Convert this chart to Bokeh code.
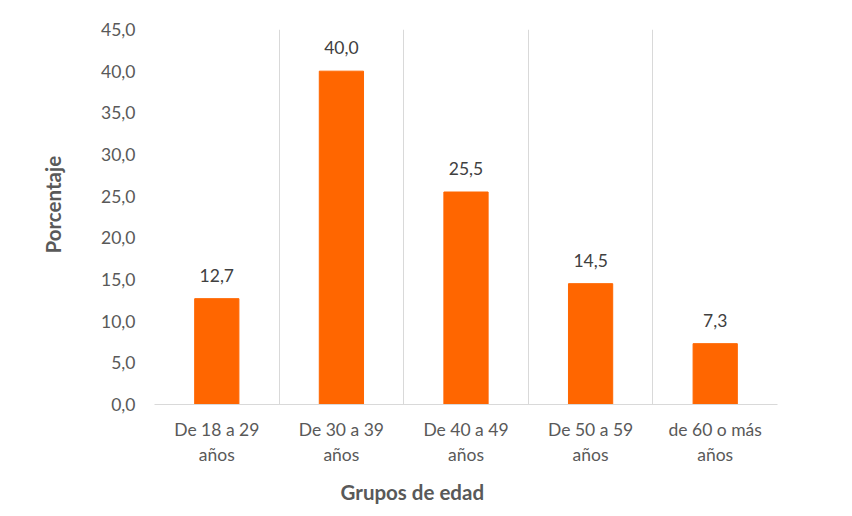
from bokeh.plotting import figure
from bokeh.models import FixedTicker, CustomJSTickFormatter, Title, ColumnDataSource, Range1d
from bokeh.core.properties import value
from bokeh.embed import file_html
from bokeh.resources import INLINE

categories = ["De 18 a 29\naños", "De 30 a 39\naños", "De 40 a 49\naños", "De 50 a 59\naños", "de 60 o más\naños"]
values = [12.7, 40.0, 25.5, 14.5, 7.3]
y_ticks = [0, 5, 10, 15, 20, 25, 30, 35, 40, 45]

FONT = "Lato"
GRAY = "#595959"

xs = [i + 0.5 for i in range(len(categories))]
labels = [f"{v:.1f}".replace(".", ",") for v in values]
src = ColumnDataSource(dict(x=xs, top=values, lab=labels))

p = figure(width=852, height=516, output_backend="svg", toolbar_location=None,
           x_range=Range1d(0, len(categories)), y_range=Range1d(0, 45),
           min_border_left=154, min_border_right=75, min_border_top=29, min_border_bottom=112)
p.outline_line_color = None
p.background_fill_color = "white"
p.border_fill_color = "white"

p.vbar(x="x", top="top", width=0.355, source=src, color="#FF6600")
p.text(x="x", y="top", text="lab", source=src, text_align="center", text_baseline="bottom",
       y_offset=-17, text_font_size="17.5px", text_color="#404040", text_font=value(FONT))

# axes
p.xaxis.ticker = FixedTicker(ticks=xs)
p.xaxis.major_label_overrides = {x: c for x, c in zip(xs, categories)}
p.xaxis.major_tick_line_color = None
p.xaxis.minor_tick_line_color = None
p.xaxis.axis_line_color = "#d9d9d9"
p.xaxis.major_label_text_font = FONT
p.xaxis.major_label_text_font_size = "17.5px"
p.xaxis.major_label_text_color = GRAY
p.xaxis.major_label_standoff = 8

p.yaxis.ticker = FixedTicker(ticks=y_ticks)
p.yaxis.formatter = CustomJSTickFormatter(code="return tick.toFixed(1).replace('.', ',');")
p.yaxis.major_tick_line_color = None
p.yaxis.minor_tick_line_color = None
p.yaxis.axis_line_color = None
p.yaxis.major_label_text_font = FONT
p.yaxis.major_label_text_font_size = "17.5px"
p.yaxis.major_label_text_color = GRAY
p.yaxis.major_label_standoff = 13

p.ygrid.grid_line_color = None
p.xgrid.ticker = FixedTicker(ticks=list(range(len(categories) + 1)))
p.xgrid.grid_line_color = "#d9d9d9"
p.xgrid.grid_line_width = 1

p.add_layout(Title(text="Grupos de edad", align="left", offset=186, standoff=20,
                   text_font=FONT, text_font_style="bold", text_font_size="20.5px", text_color=GRAY), "below")
p.add_layout(Title(text="Porcentaje", align="left", offset=151, standoff=68,
                   text_font=FONT, text_font_style="bold", text_font_size="20.5px", text_color=GRAY), "left")

open("out.html", "w").write(file_html(p, INLINE))
